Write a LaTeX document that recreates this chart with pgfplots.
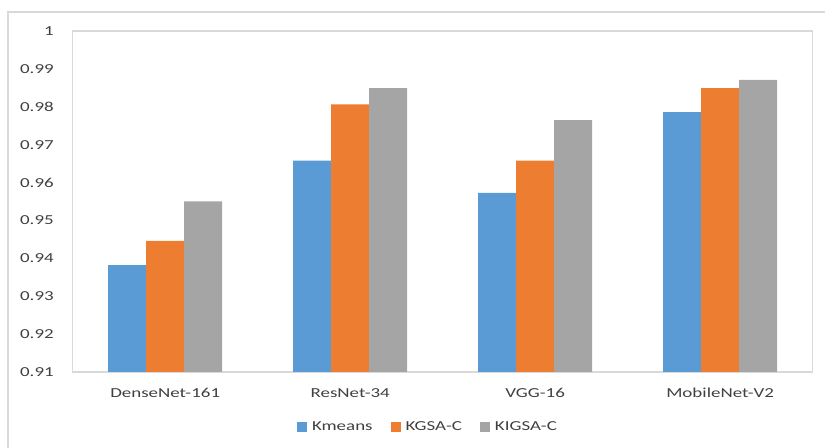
\documentclass[border=0pt]{standalone}
\usepackage{fontspec}
\setmainfont{Carlito}[FakeStretch=1.38]
\usepackage{pgfplots}
\pgfplotsset{compat=1.18}
\definecolor{cblue}{HTML}{5B9BD5}
\definecolor{corange}{HTML}{ED7D31}
\definecolor{cgray}{HTML}{A5A5A5}
\definecolor{ctext}{HTML}{404040}
\definecolor{cframe}{HTML}{D9D9D9}
\begin{document}
\begin{tikzpicture}
\path[use as bounding box] (0pt,0pt) rectangle (618.75pt,336pt);
\draw[cframe, line width=0.9pt] (6pt,0pt) -- (6pt,327pt) -- (618.75pt,327pt);
\begin{axis}[
  at={(54.5pt,57pt)}, anchor=south west,
  scale only axis, width=555pt, height=255.75pt,
  ybar=0pt, bar width=28.5pt,
  xmin=-0.5, xmax=3.5, ymin=0.91, ymax=1,
  xtick={0,1,2,3},
  xticklabels={DenseNet-161,ResNet-34,VGG-16,MobileNet-V2},
  ytick={0.91,0.92,0.93,0.94,0.95,0.96,0.97,0.98,0.99,1},
  yticklabels={0.91,0.92,0.93,0.94,0.95,0.96,0.97,0.98,0.99,1},
  major tick length=0pt,
  axis line style={cframe, line width=0.9pt},
  tick label style={font=\fontsize{10.3}{12}\selectfont, text=ctext},
  yticklabel style={inner sep=0pt, anchor=east, xshift=-14pt},
  xticklabel style={inner sep=0pt, anchor=center, yshift=-15.75pt},
  legend style={at={(0.5,0)}, anchor=center, xshift=-11.8pt, yshift=-41pt,
    draw=none, fill=none, font=\fontsize{10.3}{12}\selectfont, text=ctext,
    nodes={inner sep=0pt},
    /tikz/every odd column/.append style={column sep=3.75pt},
    /tikz/every even column/.append style={column sep=13.5pt}},
  legend columns=3,
  legend image code/.code={\fill[#1] (0pt,-3.75pt) rectangle (7.5pt,3.75pt);},
]
\addplot[fill=cblue, draw=none] coordinates {(0,0.9382) (1,0.9658) (2,0.9573) (3,0.9786)};
\addplot[fill=corange, draw=none] coordinates {(0,0.9446) (1,0.9806) (2,0.9658) (3,0.9849)};
\addplot[fill=cgray, draw=none] coordinates {(0,0.9550) (1,0.9849) (2,0.9765) (3,0.9871)};
\legend{Kmeans,KGSA-C,KIGSA-C}
\end{axis}
\end{tikzpicture}
\end{document}
